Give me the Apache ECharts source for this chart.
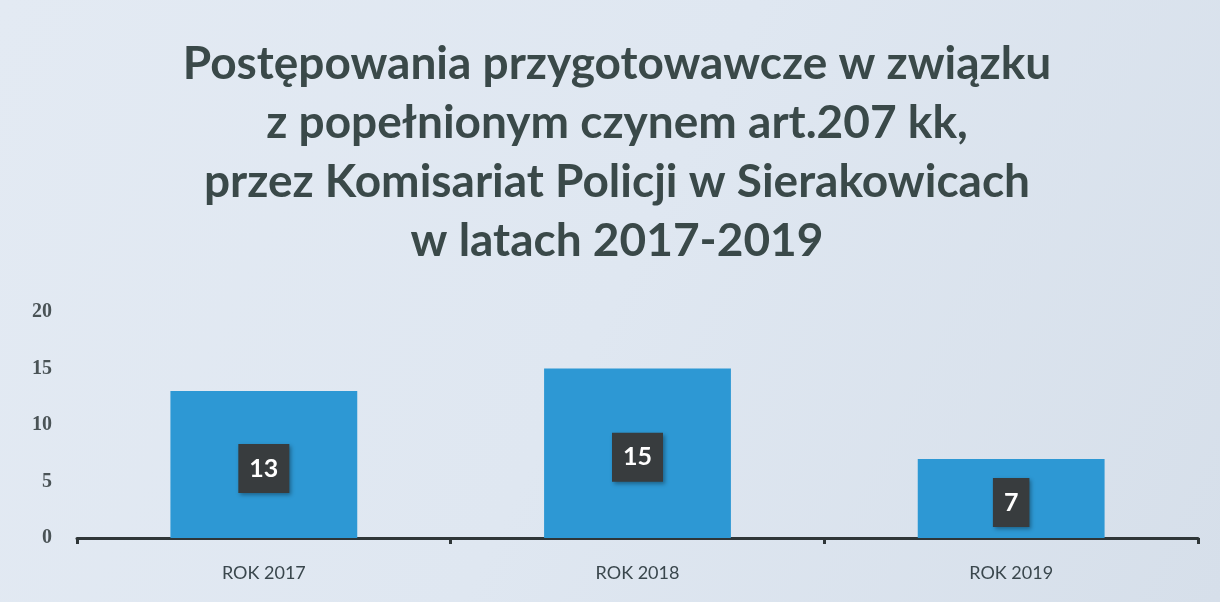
<!DOCTYPE html>
<html><head><meta charset="utf-8">
<script src="https://cdn.jsdelivr.net/npm/echarts@6/dist/echarts.min.js"></script>
<style>html,body{margin:0;padding:0;background:#fff}#c{width:1220px;height:602px}</style>
</head><body><div id="c"></div>
<script>
const titleLines = ["Postępowania przygotowawcze w związku","z popełnionym czynem art.207 kk,","przez Komisariat Policji w Sierakowicach","w latach 2017-2019"];
const categories = ["ROK 2017","ROK 2018","ROK 2019"];
const values = [13,15,7];
const yTicks = [0,5,10,15,20];

const chart = echarts.init(document.getElementById('c'));
chart.setOption({
  backgroundColor: {type:'linear',x:0,y:0,x2:1,y2:1,colorStops:[
    {offset:0,color:'#e3eaf3'},{offset:0.5,color:'#dfe7f1'},{offset:1,color:'#d6dfea'}]},
  title: {
    text: titleLines.join('\n'), left: 612, top: 30, textAlign: 'center',
    textStyle: {fontFamily:'Lato', fontWeight:'bold', fontSize:46, lineHeight:59, color:'#3a4949'}
  },
  grid: {left:77, right:22, top:312, bottom:64, containLabel:false},
  xAxis: {
    type:'category', data: categories,
    axisLine:{lineStyle:{color:'#2f3638', width:3}},
    axisTick:{show:true, length:6, lineStyle:{color:'#2f3638', width:3}},
    axisLabel:{fontFamily:'Lato', fontSize:18, color:'#3a474d', margin:26}
  },
  yAxis: {
    type:'value', min:yTicks[0], max:yTicks[yTicks.length-1], interval:5,
    axisLine:{show:false}, axisTick:{show:false}, splitLine:{show:false},
    axisLabel:{fontFamily:'Liberation Serif', fontWeight:'bold', fontSize:20, color:'#4a5356', margin:25}
  },
  series: [{
    type:'bar', data: values, barWidth:'50%',
    itemStyle:{color:'#2d98d4'},
    label:{show:true, position:'inside', offset:[0,4], fontFamily:'Lato', fontWeight:'bold', fontSize:25,
      color:'#ffffff', backgroundColor:'#383c3e', padding:[13,11,11,11],
      shadowColor:'rgba(0,0,0,0.35)', shadowBlur:4, shadowOffsetX:2, shadowOffsetY:2}
  }]
});
</script></body></html>
